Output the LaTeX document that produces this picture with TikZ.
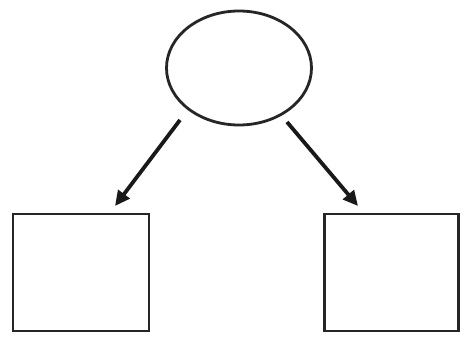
\documentclass[tikz,border=0pt]{standalone}
\usetikzlibrary{arrows.meta,shapes.geometric}
\begin{document}
\begin{tikzpicture}[x=1pt,y=-1pt,
  oval/.style={draw=black!85,line width=2.8pt,ellipse,minimum width=145pt,minimum height=114pt,inner sep=0pt},
  boxnode/.style={draw=black!85,line width=2.6pt,rectangle,inner sep=0pt,minimum height=117pt},
  arr/.style={draw=black!90,line width=3.8pt,-{Triangle[length=15pt,width=14pt]}}]
\useasboundingbox[fill=white] (0,0) rectangle (460,340);
\node[oval] (e) at (239,68) {};
\node[boxnode,minimum width=136pt] (l) at (81,272.5) {};
\node[boxnode,minimum width=134pt] (r) at (391.5,272.5) {};
\coordinate (la) at (180,120);
\coordinate (lb) at (115,206);
\coordinate (ra) at (287,122);
\coordinate (rb) at (358,206);
\draw[arr] (la) -- (lb);
\draw[arr] (ra) -- (rb);
\end{tikzpicture}
\end{document}
